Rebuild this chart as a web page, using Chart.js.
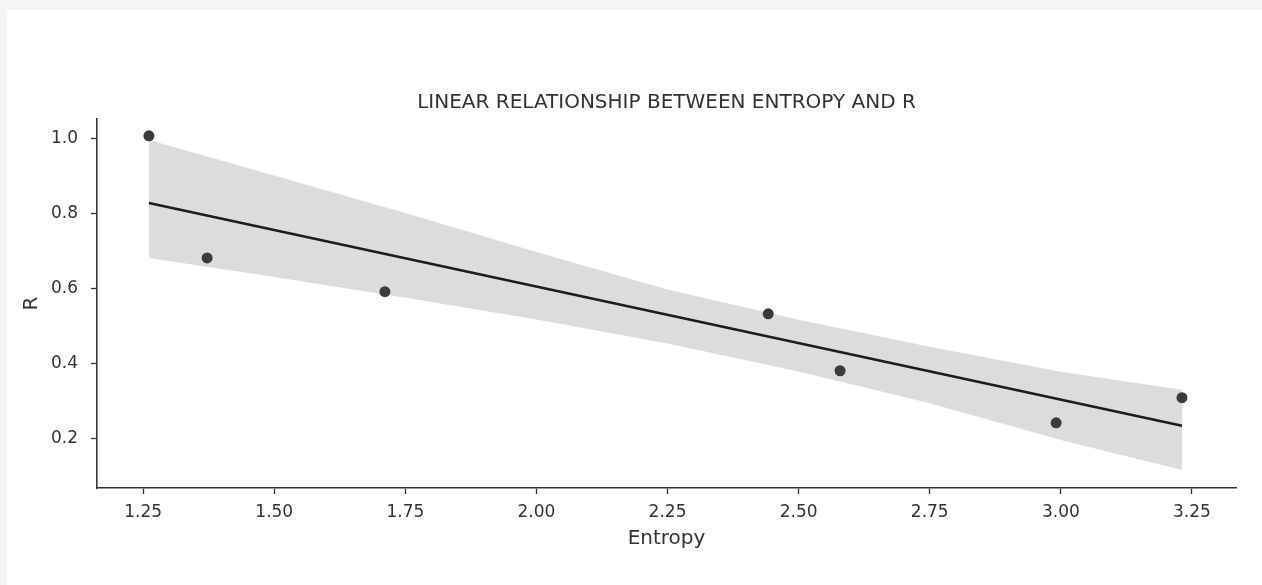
<!DOCTYPE html>
<html>
<head>
<meta charset="utf-8">
<script src="https://cdn.jsdelivr.net/npm/chart.js@4"></script>
<style>
  html, body { margin: 0; padding: 0; background: #f5f5f5; }
  #frame { position: absolute; left: 7px; top: 10px; width: 1255px; height: 575px; background: #fff; }
  canvas { display: block; }
</style>
</head>
<body>
<div id="frame"><canvas id="entropy-chart" width="1255" height="575"></canvas></div>
<script>
// observed points
var entropy = [1.261, 1.372, 1.711, 2.442, 2.579, 2.991, 3.231];
var rValues = [1.008, 0.682, 0.592, 0.533, 0.381, 0.242, 0.309];

// fitted line end points
var fitX = [1.261, 3.231];
var fitY = [0.829, 0.234];

// confidence band
var bandX = [1.261, 1.5, 1.75, 2.0, 2.25, 2.5, 2.75, 3.0, 3.231];
var bandUpper = [0.997, 0.902, 0.802, 0.698, 0.598, 0.517, 0.445, 0.378, 0.330];
var bandLower = [0.682, 0.631, 0.576, 0.518, 0.454, 0.379, 0.294, 0.196, 0.116];

var xTicks = [1.25, 1.50, 1.75, 2.00, 2.25, 2.50, 2.75, 3.00, 3.25];
var yTicks = [0.2, 0.4, 0.6, 0.8, 1.0];

function pairs(xs, ys) {
  return xs.map(function(x, i) { return {x: x, y: ys[i]}; });
}

var tickFont = {family: 'DejaVu Sans', size: 17};
var labelFont = {family: 'DejaVu Sans', size: 20};

// centre the title over the plot area instead of the whole canvas
var titleOverArea = {
  id: 'titleOverArea',
  afterLayout: function(chart) {
    if (chart.titleBlock) {
      chart.titleBlock.left = chart.chartArea.left;
      chart.titleBlock.right = chart.chartArea.right;
    }
  }
};

var ctx = document.getElementById('entropy-chart').getContext('2d');
var chart = new Chart(ctx, {
  type: 'scatter',
  data: {
    datasets: [{
      data: pairs(entropy, rValues),
      backgroundColor: '#3b3b3b',
      borderColor: '#3b3b3b',
      pointRadius: 5.5,
      pointBorderWidth: 0
    }, {
      data: pairs(fitX, fitY),
      showLine: true,
      borderColor: '#1c1c1c',
      borderWidth: 2.6,
      pointRadius: 0
    }, {
      data: pairs(bandX, bandUpper),
      showLine: true,
      borderWidth: 0,
      borderColor: 'rgba(0,0,0,0)',
      backgroundColor: '#dcdcdc',
      pointRadius: 0,
      fill: '+1'
    }, {
      data: pairs(bandX, bandLower),
      showLine: true,
      borderWidth: 0,
      borderColor: 'rgba(0,0,0,0)',
      pointRadius: 0
    }]
  },
  options: {
    responsive: false,
    animation: false,
    layout: { padding: { left: 0, right: 26, top: 0, bottom: 0 } },
    plugins: {
      legend: { display: false },
      tooltip: { enabled: false },
      title: {
        display: true,
        text: 'LINEAR RELATIONSHIP BETWEEN ENTROPY AND R',
        color: '#333',
        font: { family: 'DejaVu Sans', size: 20, weight: 'normal' },
        padding: { top: 81, bottom: 4 }
      }
    },
    scales: {
      x: {
        type: 'linear',
        min: 1.162,
        max: 3.334,
        afterBuildTicks: function(scale) {
          scale.ticks = xTicks.map(function(v) { return {value: v}; });
        },
        afterFit: function(scale) { scale.height = 97; },
        ticks: {
          color: '#333',
          font: tickFont,
          padding: 8,
          maxRotation: 0,
          callback: function(v) { return Number(v).toFixed(2); }
        },
        grid: { display: true, drawOnChartArea: false, tickLength: 6, tickColor: '#333', tickWidth: 1.3 },
        border: { display: true, color: '#333', width: 1.6 },
        title: { display: true, text: 'Entropy', color: '#333', font: labelFont, padding: { top: 0, bottom: 34 } }
      },
      y: {
        type: 'linear',
        min: 0.068,
        max: 1.053,
        afterBuildTicks: function(scale) {
          scale.ticks = yTicks.map(function(v) { return {value: v}; });
        },
        afterFit: function(scale) { scale.width = 90; },
        ticks: {
          color: '#333',
          font: tickFont,
          padding: 13,
          callback: function(v) { return Number(v).toFixed(1); }
        },
        grid: { display: true, drawOnChartArea: false, tickLength: 6, tickColor: '#333', tickWidth: 1.3 },
        border: { display: true, color: '#333', width: 1.6 },
        title: { display: true, text: 'R', color: '#333', font: labelFont, padding: { top: 13, bottom: 0 } }
      }
    }
  },
  plugins: [titleOverArea]
});
</script>
</body>
</html>
